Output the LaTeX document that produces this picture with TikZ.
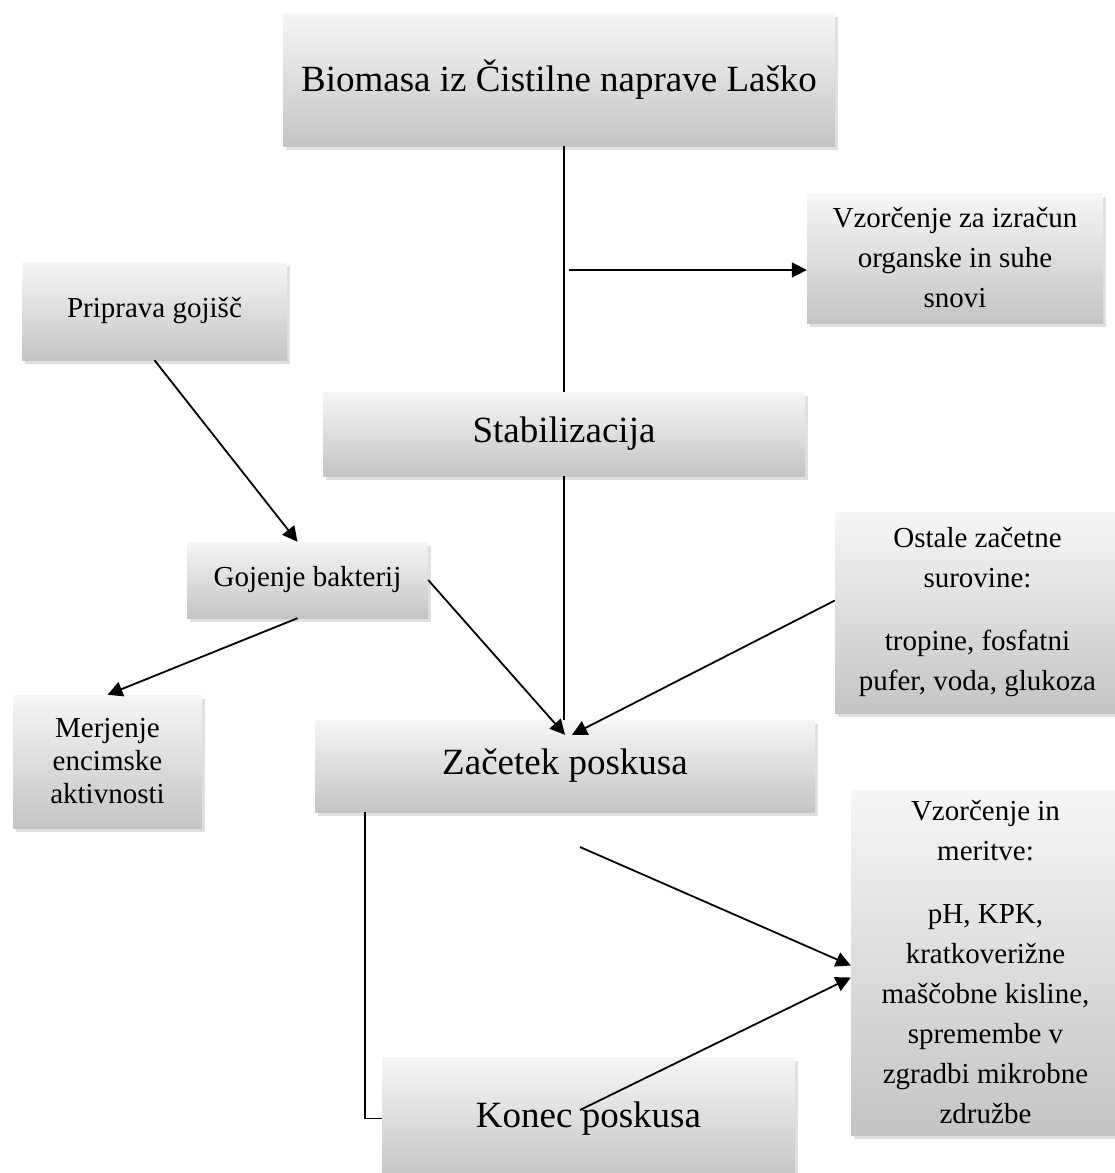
\documentclass[tikz,border=0pt]{standalone}
\usepackage{fontspec}
\setmainfont{Liberation Serif}
\usetikzlibrary{arrows.meta,shadows}

\begin{document}
\begin{tikzpicture}[x=1pt,y=-1pt,
    box/.style={rectangle, inner sep=0pt, align=center, top color=gray!7, middle color=gray!20, bottom color=gray!46,
      drop shadow={shadow xshift=3pt, shadow yshift=-4pt, fill=gray!70, opacity=0.35}},
    small/.style={box, font=\fontsize{29}{40}\selectfont},
    big/.style={box, font=\fontsize{37}{44}\selectfont},
    link/.style={line width=1.8pt},
    arr/.style={link, -{Triangle[length=15pt,width=15pt]}}]
    \useasboundingbox (0,0) rectangle (1115,1173);

    \node[big, minimum width=552pt, minimum height=133pt] (bio) at (559,79.5) {Biomasa iz Čistilne naprave Laško};
    \node[small, minimum width=296pt, minimum height=130pt] (vzizr) at (955,258) {Vzorčenje za izračun\\ organske in suhe\\ snovi};
    \node[small, minimum width=265pt, minimum height=98pt] (prip) at (154.5,311) {Priprava gojišč};
    \node[big, minimum width=482pt, minimum height=84pt] (stab) at (564,434) {Stabilizacija};
    \node[small, minimum width=241pt, minimum height=76pt] (goj) at (307.5,580) {Gojenje bakterij};
    \node[small, minimum width=285pt, minimum height=201pt] (ost) at (977.5,612.5) {Ostale začetne\\ surovine:\\[23pt] tropine, fosfatni\\ pufer, voda, glukoza};
    \node[small, font=\fontsize{29}{33}\selectfont, minimum width=189pt, minimum height=133pt] (mer) at (107.5,761.5) {Merjenje\\ encimske\\ aktivnosti};
    \node[big, minimum width=500pt, minimum height=92pt] (zac) at (565,766) {Začetek poskusa};
    \node[small, minimum width=269pt, minimum height=345pt] (vzm) at (985.5,962.5) {Vzorčenje in\\ meritve:\\[23pt] pH, KPK,\\ kratkoverižne\\ maščobne kisline,\\ spremembe v\\ zgradbi mikrobne\\ združbe};
    \node[big, minimum width=413pt, minimum height=123pt] (kon) at (588.5,1118.5) {Konec poskusa};

    \coordinate (tap) at (569,270);
    \coordinate (zacout) at (580,847);
    \coordinate (konout) at (580,1110);

    \draw[link] (stab.north |- bio.south) -- (stab.north);
    \draw[arr] (tap) -- (tap -| vzizr.west);
    \draw[arr] (prip.south) -- ([xshift=-10pt]goj.north);
    \draw[link] (stab.south) -- (stab.south |- zac.north);
    \draw[arr] (goj.east) -- ([yshift=-15pt]zac.north);
    \draw[arr] ([yshift=12pt]ost.west) -- ([xshift=7pt,yshift=-15pt]zac.north);
    \draw[arr] ([xshift=-10pt]goj.south) -- (mer.north);
    \draw[link] ([xshift=50pt]zac.south west) |- (kon.west);
    \draw[arr] (zacout) -- ([yshift=-3pt]vzm.west);
    \draw[arr] (konout) -- ([yshift=-15pt]vzm.west);
\end{tikzpicture}
\end{document}
